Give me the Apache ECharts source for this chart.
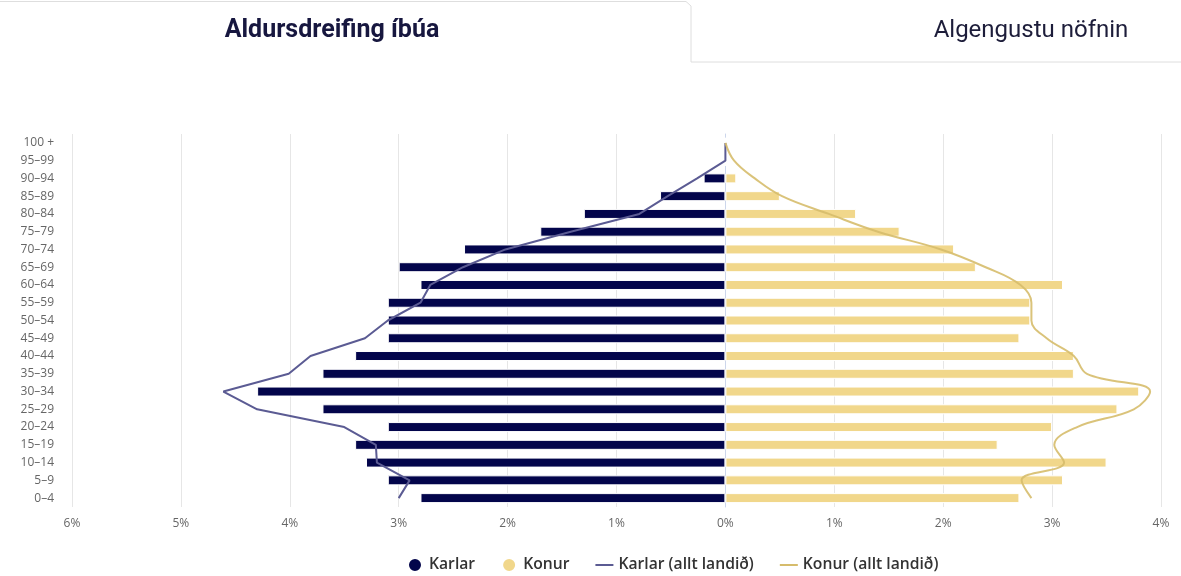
<!DOCTYPE html>
<html>
<head>
<meta charset="utf-8">
<script src="https://cdn.jsdelivr.net/npm/echarts@6/dist/echarts.min.js"></script>
<style>
html,body{margin:0;padding:0;background:#fff;}
#chart{width:1181px;height:576px;}
</style>
</head>
<body>
<div id="chart"></div>
<script>
// Age groups, bottom to top
var categories = ['0–4','5–9','10–14','15–19','20–24','25–29','30–34','35–39','40–44','45–49','50–54','55–59','60–64','65–69','70–74','75–79','80–84','85–89','90–94','95–99','100 +'];
// Karlar (percent of residents)
var karlar = [2.8,3.1,3.3,3.4,3.1,3.7,4.3,3.7,3.4,3.1,3.1,3.1,2.8,3.0,2.4,1.7,1.3,0.6,0.2,0,0];
// Konur
var konur = [2.7,3.1,3.5,2.5,3.0,3.6,3.8,3.2,3.2,2.7,2.8,2.8,3.1,2.3,2.1,1.6,1.2,0.5,0.1,0,0];
// Karlar (allt landið)
var karlarLand = [3.00,2.90,3.20,3.21,3.50,4.30,4.61,4.01,3.81,3.31,3.10,2.80,2.71,2.41,2.02,1.42,0.79,0.53,0.26,0.0,0];
// Konur (allt landið)
var konurLand = [2.81,2.72,3.11,3.02,3.23,3.75,3.90,3.32,3.20,2.95,2.81,2.81,2.71,2.39,1.98,1.40,0.95,0.52,0.27,0.08,0];

function neg(a){ return a.map(function(v){ return -v; }); }

var chart = echarts.init(document.getElementById('chart'), null, {renderer:'canvas'});
var lineIcon = 'path://M0,0L18,0L18,2L0,2Z';
var option = {
  animation: false,
  textStyle: { fontFamily: "'Open Sans', sans-serif" },
  graphic: [
    { type: 'polyline', shape: { points: [[0,1.5],[686,1.5],[691,6],[691,62],[1181,62]] },
      style: { stroke: '#dedede', fill: null, lineWidth: 1 } },
    { type: 'text', x: 332, y: 31, style: { text: 'Aldursdreifing íbúa', font: "bold 25px Roboto", fill: '#17173f', align: 'center', verticalAlign: 'middle' } },
    { type: 'text', x: 1031, y: 31, style: { text: 'Algengustu nöfnin', font: "24px Roboto", fill: '#1d1d3a', align: 'center', verticalAlign: 'middle' } }
  ],
  legend: {
    left: 402, top: 552,
    itemWidth: 18, itemHeight: 14, itemGap: 26,
    textStyle: { fontSize: 15.7, color: '#333', fontWeight: 600, fontFamily: "'Open Sans', sans-serif" },
    data: [
      { name: 'Karlar', icon: 'circle' },
      { name: 'Konur', icon: 'circle' },
      { name: 'Karlar (allt landið)', icon: lineIcon },
      { name: 'Konur (allt landið)', icon: lineIcon }
    ]
  },
  grid: { left: 72, right: 20, top: 134, bottom: 69, containLabel: false },
  xAxis: {
    type: 'value', min: -6, max: 4, interval: 1,
    axisLine: { show: false }, axisTick: { show: false },
    splitLine: { show: true, lineStyle: { color: '#e6e6e6', width: 1 } },
    axisLabel: { color: '#666', fontSize: 12, margin: 11,
      formatter: function(v){ return Math.abs(v) + '%'; } }
  },
  yAxis: {
    type: 'category', data: categories,
    axisLine: { show: true, lineStyle: { color: '#ccd6eb', width: 1 } },
    axisTick: { show: false },
    axisLabel: { color: '#666', fontSize: 12, margin: 18, interval: 0 }
  },
  series: [
    { name: 'Karlar', type: 'bar', data: neg(karlar), barWidth: 10, barGap: '-100%',
      itemStyle: { color: '#03054b', borderColor: '#fff', borderWidth: 1 } },
    { name: 'Konur', type: 'bar', data: konur, barWidth: 10,
      itemStyle: { color: '#f1d78b', borderColor: '#fff', borderWidth: 1 } },
    { name: 'Karlar (allt landið)', type: 'line', data: neg(karlarLand), symbol: 'none',
      lineStyle: { color: '#5b5b93', width: 2 }, itemStyle: { color: '#5b5b93' }, z: 5 },
    { name: 'Konur (allt landið)', type: 'line', data: konurLand, symbol: 'none', smooth: 0.4,
      lineStyle: { color: '#d6bc6c', width: 2, opacity: 0.9 }, itemStyle: { color: '#d6bc6c' }, z: 5 }
  ]
};
chart.setOption(option);
</script>
</body>
</html>
